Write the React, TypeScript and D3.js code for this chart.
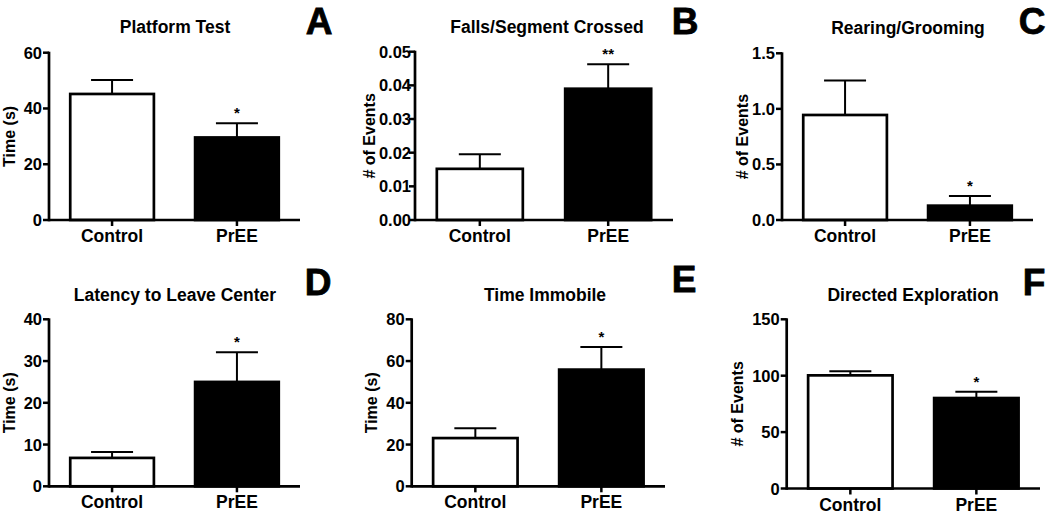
import React from "react";
import * as d3 from "d3";

const categories = ["Control", "PrEE"];
const panelTitles = ["Platform Test", "Falls/Segment Crossed", "Rearing/Grooming", "Latency to Leave Center", "Time Immobile", "Directed Exploration"];
const panelLetters = ["A", "B", "C", "D", "E", "F"];
const yLabels = ["Time (s)", "# of Events", "# of Events", "Time (s)", "Time (s)", "# of Events"];

const platformMeans = [45.2, 29.6];
const platformErr = [5.0, 5.1];
const fallsMeans = [0.0152, 0.039];
const fallsErr = [0.0043, 0.0073];
const rearingMeans = [0.945, 0.129];
const rearingErr = [0.31, 0.087];
const latencyMeans = [6.8, 25.0];
const latencyErr = [1.4, 7.1];
const immobileMeans = [23.1, 55.9];
const immobileErr = [4.7, 10.8];
const explorationMeans = [100.3, 80.2];
const explorationErr = [3.6, 5.6];

const yMaxes = [60, 0.05, 1.5, 40, 80, 150];
const yTickSteps = [20, 0.01, 0.5, 10, 20, 50];
const yTickFormats = ["d", ".2f", ".1f", "d", "d", "d"];
const sigMarks = [["", "*"], ["", "**"], ["", "*"], ["", "*"], ["", "*"], ["", "*"]];

const allMeans = [platformMeans, fallsMeans, rearingMeans, latencyMeans, immobileMeans, explorationMeans];
const allErrs = [platformErr, fallsErr, rearingErr, latencyErr, immobileErr, explorationErr];

// layout (pixel positions for each panel)
const layouts = [
  { x0: 49, x1: 300, yTop: 52.7, yBot: 220, titleX: 175, titleY: 33, letterX: 319, letterY: 34, labelOff: 40, tickGap: 7 },
  { x0: 415, x1: 673, yTop: 51.7, yBot: 220, titleX: 547, titleY: 33, letterX: 685, letterY: 34, labelOff: 46, tickGap: 4 },
  { x0: 782, x1: 1033, yTop: 53.3, yBot: 220, titleX: 908, titleY: 34, letterX: 1032, letterY: 34, labelOff: 40, tickGap: 7 },
  { x0: 49, x1: 300, yTop: 319.3, yBot: 486.3, titleX: 175, titleY: 301, letterX: 318, letterY: 295, labelOff: 40, tickGap: 7 },
  { x0: 411.7, x1: 665, yTop: 319.3, yBot: 486.3, titleX: 545, titleY: 301, letterX: 684, letterY: 292, labelOff: 40, tickGap: 7 },
  { x0: 786.7, x1: 1040, yTop: 319.3, yBot: 488.5, titleX: 913, titleY: 301, letterX: 1034, letterY: 295, labelOff: 49, tickGap: 7 },
];

const FONT = "'Liberation Sans', Arial, Helvetica, sans-serif";

function Panel({ i }: { i: number }) {
  const L = layouts[i];
  const means = allMeans[i];
  const errs = allErrs[i];
  const x = d3.scaleBand<string>().domain(categories).range([L.x0, L.x1]).paddingInner(0.33).paddingOuter(0.17);
  const y = d3.scaleLinear().domain([0, yMaxes[i]]).range([L.yBot, L.yTop]);
  const step = yTickSteps[i];
  const ticks = d3.range(0, Math.round(yMaxes[i] / step) + 1).map((k) => k * step);
  const fmt = d3.format(yTickFormats[i]);
  const capHalf = 21;
  return (
    <g>
      <text x={L.titleX} y={L.titleY} textAnchor="middle" fontFamily={FONT} fontWeight="bold" fontSize={17.5}>{panelTitles[i]}</text>
      <text x={L.letterX} y={L.letterY} textAnchor="middle" fontFamily={FONT} fontWeight="bold" fontSize={37} stroke="#000" strokeWidth={0.8}>{panelLetters[i]}</text>
      <text transform={`translate(${L.x0 - L.labelOff},${(L.yTop + L.yBot) / 2}) rotate(-90)`} textAnchor="middle" dominantBaseline="central" fontFamily={FONT} fontWeight="bold" fontSize={16}>{yLabels[i]}</text>
      {categories.map((c, j) => {
        const bx = x(c)!;
        const bw = x.bandwidth();
        const cx = bx + bw / 2;
        const top = y(means[j]);
        const et = y(means[j] + errs[j]);
        return (
          <g key={c}>
            <line x1={cx} x2={cx} y1={top} y2={et} stroke="#000" strokeWidth={2} />
            <line x1={cx - capHalf} x2={cx + capHalf} y1={et} y2={et} stroke="#000" strokeWidth={2} />
            <rect x={bx} y={top} width={bw} height={L.yBot - top} fill={j === 0 ? "#fff" : "#000"} stroke="#000" strokeWidth={2.7} />
            {sigMarks[i][j] && (
              <text x={cx} y={et - 5} textAnchor="middle" fontFamily={FONT} fontWeight="bold" fontSize={15}>{sigMarks[i][j]}</text>
            )}
            <line x1={cx} x2={cx} y1={L.yBot} y2={L.yBot + 6} stroke="#000" strokeWidth={2.5} />
            <text x={cx} y={L.yBot + 22} textAnchor="middle" fontFamily={FONT} fontWeight="bold" fontSize={17.5}>{c}</text>
          </g>
        );
      })}
      <line x1={L.x0} x2={L.x1} y1={L.yBot} y2={L.yBot} stroke="#000" strokeWidth={2.7} />
      <line x1={L.x0} x2={L.x0} y1={L.yTop - 1} y2={L.yBot + 1.3} stroke="#000" strokeWidth={2.7} />
      {ticks.map((t) => (
        <g key={t}>
          <line x1={L.x0 - 6} x2={L.x0} y1={y(t)} y2={y(t)} stroke="#000" strokeWidth={2.5} />
          <text x={L.x0 - L.tickGap} y={y(t)} textAnchor="end" dominantBaseline="central" fontFamily={FONT} fontWeight="bold" fontSize={16.5}>{fmt(t)}</text>
        </g>
      ))}
    </g>
  );
}

export default function App() {
  return (
    <svg width={1050} height={514} style={{ position: "absolute", left: 0, top: 0, background: "#fff" }}>
      <rect width={1050} height={514} fill="#fff" />
      {panelTitles.map((_, i) => (
        <Panel key={i} i={i} />
      ))}
    </svg>
  );
}
